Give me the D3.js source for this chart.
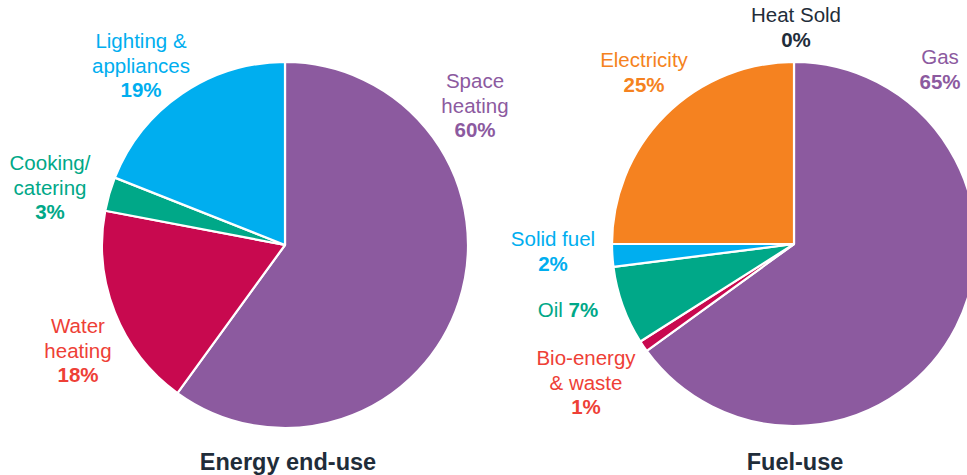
<!DOCTYPE html>
<html>
<head>
<meta charset="utf-8">
<script src="https://cdn.jsdelivr.net/npm/d3@7"></script>
<style>
  body { margin: 0; background: #fff; }
  svg { display: block; font-family: "Liberation Sans", Arial, sans-serif; }
</style>
</head>
<body>
<div id="chart"></div>
<script>
// ---- data ----
const endUseCategories = ["Space heating", "Water heating", "Cooking/ catering", "Lighting & appliances"];
const endUseValues = [60, 18, 3, 19];
const endUseColors = ["#8c5a9f", "#c8094f", "#00a888", "#00aeef"];

const fuelCategories = ["Gas", "Bio-energy & waste", "Oil", "Solid fuel", "Electricity", "Heat Sold"];
const fuelValues = [65, 1, 7, 2, 25, 0];
const fuelColors = ["#8c5a9f", "#c8094f", "#00a888", "#00aeef", "#f58220", "#1f2d3a"];

// label text colours (some differ a bit from the slice colours)
const endUseTextColors = ["#8c5a9f", "#ee4036", "#00a888", "#00aeef"];
const fuelTextColors = ["#8c5a9f", "#ee4036", "#00a888", "#00aeef", "#f58220", "#1f2d3a"];

// label lines for each slice; last line is the bold percent
const endUseLabelLines = [["Space", "heating"], ["Water", "heating"], ["Cooking/", "catering"], ["Lighting &", "appliances"]];
const fuelLabelLines = [[ "Gas"], ["Bio-energy", "& waste"], [], ["Solid fuel"], ["Electricity"], ["Heat Sold"]];

const titles = ["Energy end-use", "Fuel-use"];

// ---- layout ----
const W = 967, H = 475;
const svg = d3.select("#chart").append("svg")
    .attr("width", W)
    .attr("height", H);

const fontSize = 20.5;
const lineH = 24.5;

// label anchor (centre x, first baseline y)
const endUseLabelPos = [[475, 88], [78, 333], [50, 170], [141, 48]];
const fuelLabelPos = [[940, 64], [586, 365], [568, 317], [553, 246], [644, 67], [796, 22]];

function drawPie(cx, cy, r, cats, vals, colors, textColors, lines, labelPos, title, titleX) {
    const g = svg.append("g").attr("transform", `translate(${cx},${cy})`);

    const pie = d3.pie().sort(null).value(d => d.v);
    const arc = d3.arc().innerRadius(0).outerRadius(r);
    const data = cats.map((c, i) => ({c: c, v: vals[i], i: i}));

    g.selectAll("path")
        .data(pie(data).filter(d => d.data.v > 0))
        .join("path")
        .attr("d", arc)
        .attr("fill", d => colors[d.data.i])
        .attr("stroke", "#fff")
        .attr("stroke-width", 2.2)
        .attr("stroke-linejoin", "round");

    // labels
    data.forEach((d, i) => {
        const [lx, ly] = labelPos[i];
        const t = svg.append("text")
            .attr("x", lx)
            .attr("y", ly)
            .attr("text-anchor", "middle")
            .style("font-size", fontSize + "px")
            .attr("fill", textColors[i]);
        if (lines[i].length === 0) {
            // inline name + percent (Oil 7%)
            t.append("tspan").text(d.c + " ");
            t.append("tspan").attr("font-weight", "bold").text(d.v + "%");
        } else {
            lines[i].forEach((ln, k) => {
                t.append("tspan").attr("x", lx).attr("y", ly + k * lineH).text(ln);
            });
            t.append("tspan")
                .attr("x", lx)
                .attr("y", ly + lines[i].length * lineH)
                .attr("font-weight", "bold")
                .text(d.v + "%");
        }
    });

    svg.append("text")
        .attr("x", titleX)
        .attr("y", 470)
        .attr("text-anchor", "middle")
        .style("font-size", "23.5px")
        .attr("font-weight", "bold")
        .attr("fill", "#1f2d3a")
        .text(title);
}

drawPie(285, 245, 183, endUseCategories, endUseValues, endUseColors, endUseTextColors,
    endUseLabelLines, endUseLabelPos, titles[0], 288);
drawPie(794, 244, 182, fuelCategories, fuelValues, fuelColors, fuelTextColors,
    fuelLabelLines, fuelLabelPos, titles[1], 795);
</script>
</body>
</html>
